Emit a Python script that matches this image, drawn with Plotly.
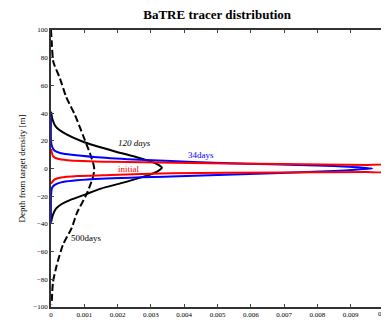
import plotly.graph_objects as go

# Concentration (x) vs depth from target density (y)
initial_conc = [0, 0.00006, 0.0002, 0.0005, 0.0018, 0.0037, 0.0069, 0.0095, 0.0100, 0.0100, 0.0100,
                0.0095, 0.0069, 0.0036, 0.0018, 0.0008, 0.0003, 0.0001, 0]
initial_depth = [14, 9, 7, 6, 4.8, 4.2, 3.2, 2.6, 2.5, 0, -2.5,
                 -2.6, -2.8, -3.5, -4.7, -5.4, -6.5, -8, -11]

d34_conc = [0, 0, 0.00003, 0.0001, 0.0003, 0.0013, 0.0025, 0.0036, 0.0049, 0.0069, 0.0085, 0.00965,
            0.0085, 0.0069, 0.0036, 0.0013, 0.0003, 0.0001, 0.00003, 0, 0]
d34_depth = [38, 20, 16, 13, 11, 8.3, 6.5, 5.4, 4.2, 2.8, 1.8, 0,
             -1.8, -3.3, -5.8, -7.6, -10, -12, -14, -20, -39]

d120_conc = [0, 0.00005, 0.00015, 0.0004, 0.001, 0.0019, 0.0026, 0.003, 0.0032, 0.00333,
             0.0032, 0.0029, 0.0022, 0.0015, 0.001, 0.0006, 0.0003, 0.00015, 0.00005, 0]
d120_depth = [41, 35, 30, 25.5, 19, 12.5, 8, 5, 3, 0.5,
              -2, -5, -10, -14.5, -19, -22.5, -26, -29, -34, -39]

d500_conc = [0, 0.00002, 0.00007, 0.00027, 0.00045, 0.00072, 0.00096, 0.00117, 0.00128, 0.0013,
             0.00125, 0.00107, 0.00078, 0.00062, 0.00036, 0.00017, 0.00006, 0.00002]
d500_depth = [100, 92, 77, 65, 52, 38.6, 24, 11, 2.5, -1,
              -7, -18.5, -32, -43, -55, -70, -82, -98]

x_ticks = [0, 0.001, 0.002, 0.003, 0.004, 0.005, 0.006, 0.007, 0.008, 0.009, 0.01]
x_tick_labels = ["0", "0.001", "0.002", "0.003", "0.004", "0.005", "0.006", "0.007", "0.008", "0.009", "0.01"]
y_ticks = [-100, -80, -60, -40, -20, 0, 20, 40, 60, 80, 100]

serif = "Liberation Serif, Times New Roman, serif"

fig = go.Figure()
fig.add_trace(go.Scatter(x=d500_conc, y=d500_depth, mode="lines",
                         line=dict(color="black", width=2, dash="7px,3px", shape="spline", smoothing=0.6)))
fig.add_trace(go.Scatter(x=d120_conc, y=d120_depth, mode="lines",
                         line=dict(color="black", width=2, shape="spline", smoothing=0.6)))
fig.add_trace(go.Scatter(x=d34_conc, y=d34_depth, mode="lines",
                         line=dict(color="#0000ff", width=2, shape="spline", smoothing=0.5)))
fig.add_trace(go.Scatter(x=initial_conc, y=initial_depth, mode="lines",
                         line=dict(color="#ff0000", width=2, shape="spline", smoothing=0.5)))

ann_font = dict(family=serif, size=9)
fig.add_annotation(x=0.00252, y=18.4, text="<i>120 days</i>", showarrow=False, font=dict(ann_font, color="black"))
fig.add_annotation(x=0.0045, y=9.7, text="34days", showarrow=False, font=dict(ann_font, color="#0000ff"))
fig.add_annotation(x=0.00233, y=-0.4, text="initial", showarrow=False, font=dict(ann_font, color="#ff0000"))
fig.add_annotation(x=0.00105, y=-50, text="500days", showarrow=False, font=dict(ann_font, color="black"))
# last x tick label sits past the figure edge, where plotly hides it; draw it at the same tick position
fig.add_annotation(x=x_ticks[-1], xref="x", y=0, yref="paper", yanchor="top", yshift=-2,
                   text=x_tick_labels[-1], showarrow=False, borderpad=0,
                   font=dict(family=serif, size=7, color="black"))

# page body has an 8px margin, so the figure is 8px smaller and offsets reduced by 8
fig.update_layout(
    width=381, height=314,
    margin=dict(l=43, r=5, t=22, b=15, autoexpand=False),
    paper_bgcolor="white", plot_bgcolor="white",
    showlegend=False,
    title=dict(text="<b>BaTRE tracer distribution</b>", x=0.549, xanchor="center", y=0.978, yanchor="middle",
               font=dict(family=serif, size=13, color="black")),
    font=dict(family=serif, size=8, color="black"),
)
fig.update_xaxes(range=[0, 0.01], tickvals=x_ticks, ticktext=x_tick_labels, automargin=False,
                 ticks="inside", ticklen=3, mirror="ticks", showline=True, linecolor="#333", linewidth=1.5,
                 showgrid=False, zeroline=False, tickfont=dict(family=serif, size=7, color="black"))
fig.update_yaxes(range=[-100, 100], tickvals=y_ticks, automargin=False,
                 ticks="inside", ticklen=3, mirror="ticks", showline=True, linecolor="#333", linewidth=1.5,
                 showgrid=False, zeroline=False, tickfont=dict(family=serif, size=7, color="black"),
                 title=dict(text="Depth from target density [m]", font=dict(family=serif, size=9), standoff=6))

fig.write_html("out.html")
